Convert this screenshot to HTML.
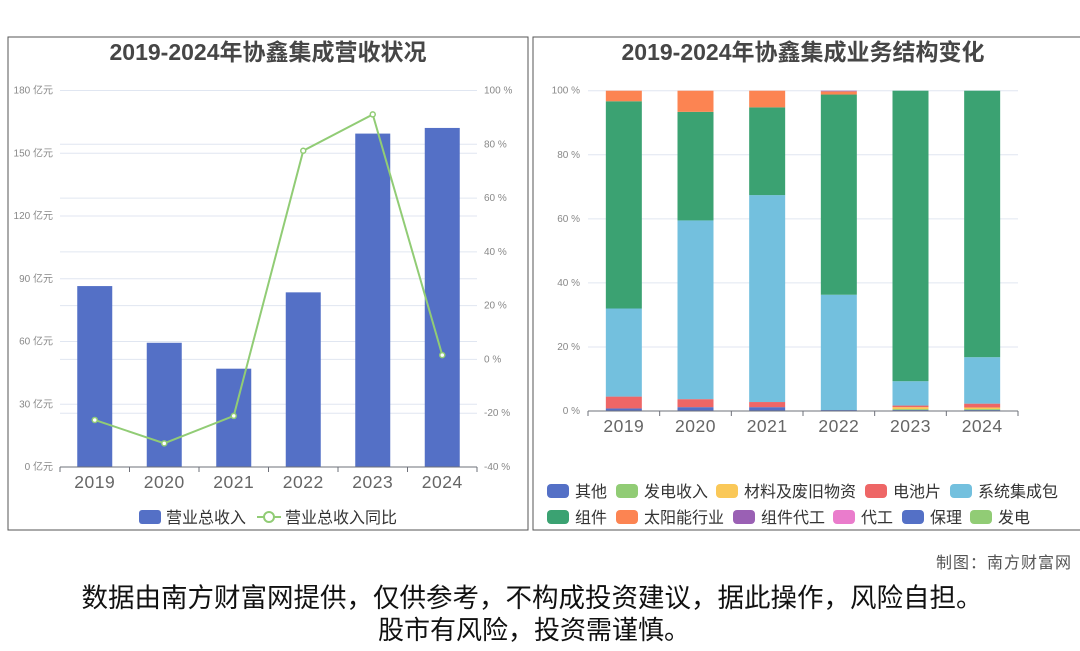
<!DOCTYPE html>
<html><head><meta charset="utf-8">
<style>
body{margin:0;width:1080px;height:646px;background:#fff;overflow:hidden;font-family:"Liberation Sans","Noto Sans CJK SC",sans-serif;}
svg text{font-family:"Liberation Sans","Noto Sans CJK SC",sans-serif;}
</style></head><body>
<svg id="s" width="1080" height="646" xmlns="http://www.w3.org/2000/svg">
<rect x="8" y="37" width="520" height="493" fill="none" stroke="#555" stroke-width="1"/>
<rect x="533" y="37" width="560" height="493" fill="none" stroke="#555" stroke-width="1"/>
<text x="268" y="60" text-anchor="middle" font-size="23" font-weight="bold" fill="#464646">2019-2024年协鑫集成营收状况</text>
<text x="803" y="60" text-anchor="middle" font-size="23" font-weight="bold" fill="#464646">2019-2024年协鑫集成业务结构变化</text>
<g id="L"></g><g id="R"></g>
<g>
<rect x="139" y="510" width="22" height="14" rx="3" fill="#5470c6"/>
<text x="166" y="523" font-size="16" fill="#333">营业总收入</text>
<line x1="257" y1="517" x2="281" y2="517" stroke="#91cc75" stroke-width="2"/>
<circle cx="269" cy="517" r="5" fill="#fff" stroke="#91cc75" stroke-width="2"/>
<text x="285" y="523" font-size="16" fill="#333">营业总收入同比</text>
</g>
<g id="RL"></g>
<text x="1072" y="568" text-anchor="end" font-size="16" fill="#555" letter-spacing="1">制图：南方财富网</text>
<text x="532" y="607" text-anchor="middle" font-size="26.5" fill="#111">数据由南方财富网提供，仅供参考，不构成投资建议，据此操作，风险自担。</text>
<text x="534" y="639" text-anchor="middle" font-size="26" fill="#111">股市有风险，投资需谨慎。</text>
</svg>
<script>
const years=['2019','2020','2021','2022','2023','2024'];
const revenue=[86.5,59.4,47,83.5,159.4,162.1];
const growth=[-22.5,-31.2,-21,77.6,91.1,1.6];
const leftTicks=[0,30,60,90,120,150,180];
const rightTicks=[-40,-20,0,20,40,60,80,100];
const segNames=['其他','发电收入','材料及废旧物资','电池片','系统集成包','组件','太阳能行业','组件代工','代工','保理','发电'];
const segColors=['#5470c6','#91cc75','#fac858','#ee6666','#73c0de','#3ba272','#fc8452','#9a60b4','#ea7ccc','#5470c6','#91cc75'];
const s_other=[0.8,1.2,1.2,0.3,0.3,0.3];
const s_power=[0,0,0,0,0.3,0.3];
const s_material=[0,0,0,0,0.6,0.5];
const s_cell=[3.7,2.5,1.6,0,0.5,1.2];
const s_system=[27.5,55.8,64.6,36,7.6,14.5];
const s_module=[64.7,33.9,27.4,62.5,90.7,83.2];
const s_solar=[3.3,6.6,5.2,1,0,0];
const s_oem=[0,0,0,0.2,0,0];
const segs=[s_other,s_power,s_material,s_cell,s_system,s_module,s_solar,s_oem];
const NS='http://www.w3.org/2000/svg';
function mk(p,t,a,txt){const e=document.createElementNS(NS,t);for(const k in a)e.setAttribute(k,a[k]);if(txt!=null)e.textContent=txt;p.appendChild(e);return e;}
// left chart
const L=document.getElementById('L');
const lx0=60,lx1=477,ly0=467,ly1=90.5,bw=(lx1-lx0)/6;
const yL=v=>ly0-(v/180)*(ly0-ly1);
const yP=v=>ly0-((v+40)/140)*(ly0-ly1);
const xc=i=>lx0+bw*(i+0.5);
leftTicks.forEach(t=>{if(t>0){const g=mk(L,'line',{x1:lx0,x2:lx1,y1:yL(t),y2:yL(t),stroke:'#e0e6f1'});}
 const e=mk(L,'text',{x:53,y:yL(t)+3,'text-anchor':'end','font-size':10,fill:'#888'},t+' 亿元');});
rightTicks.forEach(t=>{if(t>-40){mk(L,'line',{x1:lx0,x2:lx1,y1:yP(t),y2:yP(t),stroke:'#e0e6f1'});}
 const e=mk(L,'text',{x:484,y:yP(t)+3,'font-size':10,fill:'#888'},t+' %');});
revenue.forEach((v,i)=>{const r=mk(L,'rect',{x:xc(i)-17.5,y:yL(v),width:35,height:ly0-yL(v),fill:'#5470c6'});});
mk(L,'line',{x1:lx0,x2:lx1,y1:ly0,y2:ly0,stroke:'#6e7079'});
years.forEach((y,i)=>{mk(L,'line',{x1:lx0+bw*i,x2:lx0+bw*i,y1:ly0,y2:ly0+5,stroke:'#6e7079'});
 const e=mk(L,'text',{x:xc(i),y:488,'text-anchor':'middle','font-size':17.5,fill:'#666','letter-spacing':'0.5'},y);});
mk(L,'line',{x1:lx1,x2:lx1,y1:ly0,y2:ly0+5,stroke:'#6e7079'});
const pl=mk(L,'polyline',{points:growth.map((v,i)=>xc(i)+','+yP(v)).join(' '),fill:'none',stroke:'#91cc75','stroke-width':2});

growth.forEach((v,i)=>{const c=mk(L,'circle',{cx:xc(i),cy:yP(v),r:2.5,fill:'#fff',stroke:'#91cc75','stroke-width':1.5});});
// right chart
const R=document.getElementById('R');
const rx0=588,rx1=1018,ry0=411,ry1=90.7,rb=(rx1-rx0)/6;
const yR=v=>ry0-(v/100)*(ry0-ry1);
const rc=i=>rx0+rb*(i+0.5);
[0,20,40,60,80,100].forEach(t=>{if(t>0)mk(R,'line',{x1:rx0,x2:rx1,y1:yR(t),y2:yR(t),stroke:'#e0e6f1'});
 const e=mk(R,'text',{x:580,y:yR(t)+3,'text-anchor':'end','font-size':10,fill:'#888'},t+' %');});
years.forEach((y,i)=>{let acc=0;segs.forEach((s,k)=>{const v=s[i];if(v>0){const r=mk(R,'rect',{x:rc(i)-18,y:yR(acc+v),width:36,height:yR(acc)-yR(acc+v),fill:segColors[k]});}acc+=v;});});
mk(R,'line',{x1:rx0,x2:rx1,y1:ry0,y2:ry0,stroke:'#6e7079'});
years.forEach((y,i)=>{mk(R,'line',{x1:rx0+rb*i,x2:rx0+rb*i,y1:ry0,y2:ry0+5,stroke:'#6e7079'});
 const e=mk(R,'text',{x:rc(i),y:432,'text-anchor':'middle','font-size':17.5,fill:'#666','letter-spacing':'0.5'},y);});
mk(R,'line',{x1:rx1,x2:rx1,y1:ry0,y2:ry0+5,stroke:'#6e7079'});
// right legend
const RL=document.getElementById('RL');
const lpos=[[547,491],[616,491],[716,491],[865,491],[950,491],[547,517],[616,517],[733,517],[833,517],[902,517],[970,517]];
segNames.forEach((n,k)=>{const [x,y]=lpos[k];mk(RL,'rect',{x:x,y:y-7,width:22,height:14,rx:4,fill:segColors[k]});
 const e=mk(RL,'text',{x:x+28,y:y+6,'font-size':16,fill:'#333'},n);});
</script>
</body></html>
